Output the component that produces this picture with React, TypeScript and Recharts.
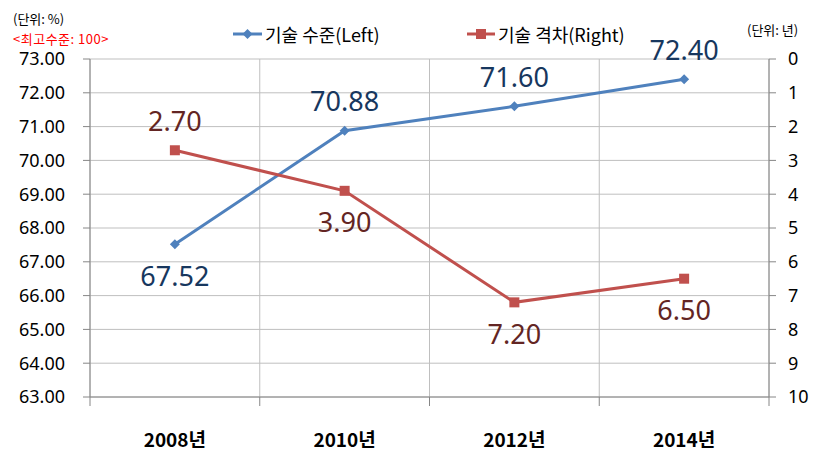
import { CartesianGrid, LabelList, Line, LineChart, XAxis, YAxis } from "recharts";

const years = ["2008년", "2010년", "2012년", "2014년"];
const techLevel = [67.52, 70.88, 71.6, 72.4];
const techGap = [2.7, 3.9, 7.2, 6.5];
const leftTicks = [63, 64, 65, 66, 67, 68, 69, 70, 71, 72, 73];
const rightTicks = [0, 1, 2, 3, 4, 5, 6, 7, 8, 9, 10];

// which labels sit under their point
const levelBelow = [true, false, false, false];
const gapBelow = [false, true, true, true];

const data = years.map((year, i) => ({ year, level: techLevel[i], gap: techGap[i] }));

const W = 825;
const H = 464;
const LEFT_W = 90;
const RIGHT_W = 56;
const BAND = (W - LEFT_W - RIGHT_W) / years.length;

const FONT = "'Noto Sans', 'Noto Sans CJK KR', sans-serif";
const KR = "'Noto Sans CJK KR', 'Noto Sans', sans-serif";
const AXIS = "#868686";
const GRID = "#BFBFBF";
const BLUE = "#4F81BD";
const RED = "#C0504D";

const Diamond = ({ cx, cy }: any) => (
  <polygon
    points={`${cx},${cy - 5} ${cx + 5},${cy} ${cx},${cy + 5} ${cx - 5},${cy}`}
    fill={BLUE}
  />
);

const Square = ({ cx, cy }: any) => (
  <rect x={cx - 5} y={cy - 5} width={10} height={10} fill={RED} />
);

const makeLabel = (below: boolean[], color: string) => (props: any) => {
  const { x, y, value, index } = props;
  return (
    <text
      x={x}
      y={below[index] ? y + 31 : y - 30}
      textAnchor="middle"
      dominantBaseline="central"
      fill={color}
      fontSize={27}
      fontFamily={FONT}
    >
      {Number(value).toFixed(2)}
    </text>
  );
};

const YearTick = ({ x, y, payload, index }: any) => (
  <g>
    <line x1={x - BAND / 2} x2={x - BAND / 2} y1={y} y2={y + 9} stroke={AXIS} />
    {index === years.length - 1 && (
      <line x1={x + BAND / 2} x2={x + BAND / 2} y1={y} y2={y + 9} stroke={AXIS} />
    )}
    <text
      x={x}
      y={y + 41}
      textAnchor="middle"
      dominantBaseline="central"
      fontSize={19}
      fontWeight="bold"
      fontFamily={KR}
      fill="#000"
    >
      {payload.value}
    </text>
  </g>
);

const note = { position: "absolute" as const, fontSize: 13, lineHeight: "13px", fontFamily: KR, whiteSpace: "nowrap" as const };

export default function App() {
  return (
    <div style={{ position: "relative", width: W, height: H, background: "#fff" }}>
      <style>{`body{margin:0}`}</style>
      <LineChart
        width={W}
        height={H}
        data={data}
        margin={{ top: 59, right: 0, bottom: 0, left: 0 }}
      >
        <CartesianGrid
          yAxisId="left"
          stroke={GRID}
          verticalCoordinatesGenerator={({ offset }: any) =>
            years.map((_, i) => offset.left + i * BAND).concat(offset.left + years.length * BAND)
          }
        />
        <XAxis
          dataKey="year"
          height={67}
          padding={{ left: BAND / 2, right: BAND / 2 }}
          stroke={AXIS}
          tickLine={false}
          tickSize={0}
          tickMargin={0}
          tick={<YearTick />}
          interval={0}
        />
        <YAxis
          yAxisId="left"
          width={LEFT_W}
          domain={[63, 73]}
          ticks={leftTicks}
          interval={0}
          tickFormatter={(v: number) => v.toFixed(2)}
          stroke={AXIS}
          tickSize={7}
          tickMargin={18}
          tick={{ fontSize: 18, fill: "#000", fontFamily: FONT }}
        />
        <YAxis
          yAxisId="right"
          orientation="right"
          width={RIGHT_W}
          domain={[0, 10]}
          reversed
          ticks={rightTicks}
          interval={0}
          stroke={AXIS}
          tickSize={7}
          tickMargin={12}
          tick={{ fontSize: 18, fill: "#000", fontFamily: FONT, textAnchor: "start" }}
        />
        <Line
          yAxisId="left"
          dataKey="level"
          stroke={BLUE}
          strokeWidth={3}
          dot={<Diamond />}
          activeDot={false}
          isAnimationActive={false}
        >
          <LabelList dataKey="level" content={makeLabel(levelBelow, "#17375E")} />
        </Line>
        <Line
          yAxisId="right"
          dataKey="gap"
          stroke={RED}
          strokeWidth={3}
          dot={<Square />}
          activeDot={false}
          isAnimationActive={false}
        >
          <LabelList dataKey="gap" content={makeLabel(gapBelow, "#632523")} />
        </Line>
      </LineChart>

      <div style={{ ...note, left: 13, top: 12, color: "#000" }}>(단위: %)</div>
      <div style={{ ...note, left: 13, top: 32, color: "#FF0000", letterSpacing: 0.5 }}>
        {"<최고수준: 100>"}
      </div>
      <div style={{ ...note, left: 747, top: 23, color: "#000" }}>(단위: 년)</div>

      <div style={{ position: "absolute", left: 233, top: 22, display: "flex", alignItems: "center", fontFamily: KR, fontSize: 18, lineHeight: "24px", whiteSpace: "nowrap" }}>
        <svg width={30} height={12}>
          <line x1={0} x2={29} y1={6} y2={6} stroke={BLUE} strokeWidth={3} />
          <polygon points="14.5,1 19.5,6 14.5,11 9.5,6" fill={BLUE} />
        </svg>
        <span style={{ marginLeft: 2 }}>기술 수준(Left)</span>
      </div>
      <div style={{ position: "absolute", left: 467, top: 22, display: "flex", alignItems: "center", fontFamily: KR, fontSize: 18, lineHeight: "24px", whiteSpace: "nowrap" }}>
        <svg width={29} height={12}>
          <line x1={0} x2={28} y1={6} y2={6} stroke={RED} strokeWidth={3} />
          <rect x={9} y={1} width={10} height={10} fill={RED} />
        </svg>
        <span style={{ marginLeft: 2 }}>기술 격차(Right)</span>
      </div>
    </div>
  );
}
